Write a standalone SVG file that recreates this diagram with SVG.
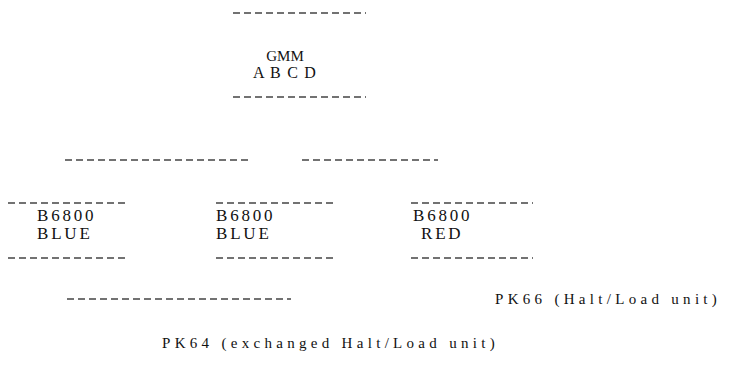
<svg xmlns="http://www.w3.org/2000/svg" width="735" height="381" viewBox="0 0 735 381">
<style>
.d{stroke:#444;stroke-width:1.6;stroke-dasharray:7 4;fill:none}
.t{font-family:"Liberation Serif","Times New Roman",serif;fill:#111}
.c{text-anchor:middle}
.b{font-size:17px;letter-spacing:2.8px}
.p{font-family:"Liberation Serif","Times New Roman",serif;fill:#111;font-size:15px;letter-spacing:4.3px}
</style>
<rect width="735" height="381" fill="#fff"/>
<g id="gmm">
<line class="d" x1="233" y1="13" x2="366" y2="13"/>
<text class="t c" x="285" y="61" font-size="15">GMM</text>
<text class="t c" x="285" y="78" font-size="16" letter-spacing="1.2">A B C D</text>
<line class="d" x1="233" y1="97" x2="366" y2="97"/>
</g>
<g id="bus">
<line class="d" x1="65" y1="160" x2="251" y2="160"/>
<line class="d" x1="302" y1="160" x2="438" y2="160"/>
</g>
<g id="b6800-blue-1">
<line class="d" x1="8" y1="203" x2="129" y2="203"/>
<text class="t b" x="37" y="221">B6800</text>
<text class="t b" x="37" y="239">BLUE</text>
<line class="d" x1="8" y1="258" x2="129" y2="258"/>
</g>
<g id="b6800-blue-2">
<line class="d" x1="216" y1="203" x2="337" y2="203"/>
<text class="t b" x="216" y="221">B6800</text>
<text class="t b" x="216" y="239">BLUE</text>
<line class="d" x1="216" y1="258" x2="337" y2="258"/>
</g>
<g id="b6800-red">
<line class="d" x1="411" y1="203" x2="533" y2="203"/>
<text class="t b" x="413" y="221">B6800</text>
<text class="t b" x="421" y="239">RED</text>
<line class="d" x1="411" y1="258" x2="533" y2="258"/>
</g>
<g id="pk64-bus">
<line class="d" x1="67" y1="299" x2="291" y2="299"/>
</g>
<g id="pk66">
<text class="p" x="495" y="304">PK66 (Halt/Load unit)</text>
</g>
<g id="pk64">
<text class="p" x="162" y="348">PK64 (exchanged Halt/Load unit)</text>
</g>
</svg>
